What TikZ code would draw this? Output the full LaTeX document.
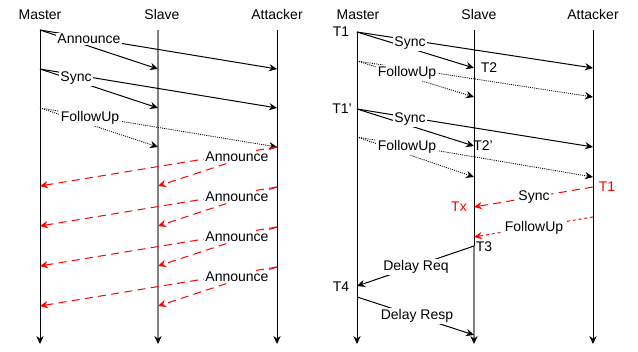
\documentclass[tikz,border=0pt]{standalone}
\usepackage{fontspec}
\setmainfont{Liberation Sans}
\usetikzlibrary{arrows.meta}
\begin{document}
\begin{tikzpicture}[x=0.75pt,y=-0.75pt,
  tip/.tip={Stealth[length=6pt,width=5.5pt,inset=2pt]},
  every node/.style={font=\fontsize{10.5}{12}\selectfont, inner sep=1pt},
  hdr/.style={},
  lbl/.style={fill=white},
  redlbl/.style={text=red},
  life/.style={line width=0.75pt,-tip},
  slavel/.style={line width=1.6pt,draw=black!50,-{Stealth[length=6pt,width=5.5pt,inset=2pt,color=black,line width=0.75pt]}},
  msg/.style={line width=0.75pt,-tip},
  fu/.style={line width=0.6pt,dash pattern=on 0.8pt off 0.8pt,-tip},
  att/.style={line width=0.75pt,red,dash pattern=on 6pt off 4pt,-tip},
  attd/.style={line width=0.75pt,red,dash pattern=on 2.2pt off 2.2pt,-tip}]
\useasboundingbox (0,0) rectangle (638,352);

% ---------- left panel ----------
\node[hdr] (hM) at (40,15) {Master};
\node[hdr] (hS) at (162,15) {Slave};
\node[hdr] (hA) at (277,15) {Attacker};
\coordinate (Mt) at (40,30);  \coordinate (Mb) at (40,344);
\coordinate (St) at (158,30); \coordinate (Sb) at (158,344);
\coordinate (At) at (277,30); \coordinate (Ab) at (277,344);
\draw[life] (Mt) -- (Mb);
\draw[slavel] (St) -- (Sb);
\draw[life] (At) -- (Ab);

\coordinate (m1) at (40,30);  \coordinate (s1) at (158,69);  \coordinate (a1) at (277,69);
\coordinate (m2) at (40,69);  \coordinate (s2) at (158,108); \coordinate (a2) at (277,108);
\coordinate (m3) at (40,108); \coordinate (s3) at (158,147); \coordinate (a3) at (277,147);
\draw[msg] (m1) -- (s1); \draw[msg] (m1) -- (a1);
\draw[msg] (m2) -- (s2); \draw[msg] (m2) -- (a2);
\draw[fu] (m3) -- (s3);  \draw[fu] (m3) -- (a3);
\node[lbl] (l1) at (89,39) {Announce};
\node[lbl] (l2) at (76,78) {Sync};
\node[lbl] (l3) at (90,118) {FollowUp};

\foreach \i/\y in {1/147,2/187,3/227,4/267}{
  \coordinate (ra\i) at (277,\y);
  \coordinate (rm\i) at (40,\y+39);
  \coordinate (rs\i) at (158,\y+39);
  \draw[att] (ra\i) -- (rm\i);
  \draw[att] (ra\i) -- (rs\i);
  \node[lbl] (rl\i) at (237,\y+10) {Announce};
}

% ---------- right panel ----------
\node[hdr] (hM2) at (358,15) {Master};
\node[hdr] (hS2) at (479,15) {Slave};
\node[hdr] (hA2) at (593,15) {Attacker};
\coordinate (Mt2) at (357,32);  \coordinate (Mb2) at (357,344);
\coordinate (St2) at (474,30);  \coordinate (Sm2) at (474,246); \coordinate (Sb2) at (474,344);
\coordinate (At2) at (593,30);  \coordinate (Ab2) at (593,344);
\draw[life] (Mt2) -- (Mb2);
\draw[line width=0.75pt] (St2) -- (Sm2);
\draw[slavel] (Sm2) -- (Sb2);
\draw[life] (At2) -- (Ab2);

\coordinate (p1) at (357,32);  \coordinate (q1) at (474,68);  \coordinate (r1) at (593,68);
\coordinate (p2) at (357,61);  \coordinate (q2) at (474,97);  \coordinate (r2) at (593,97);
\coordinate (p3) at (357,109); \coordinate (q3) at (474,146); \coordinate (r3) at (593,147);
\coordinate (p4) at (357,137); \coordinate (q4) at (474,177); \coordinate (r4) at (593,177);
\draw[msg] (p1) -- (q1); \draw[msg] (p1) -- (r1);
\draw[fu] (p2) -- (q2);  \draw[fu] (p2) -- (r2);
\draw[msg] (p3) -- (q3); \draw[msg] (p3) -- (r3);
\draw[fu] (p4) -- (q4);  \draw[fu] (p4) -- (r4);
\node[lbl] (k1) at (410,43) {Sync};
\node[lbl] (k2) at (407,73) {FollowUp};
\node[lbl] (k3) at (410,119) {Sync};
\node[lbl] (k4) at (407,147) {FollowUp};
\node (t1) at (341,32) {T1};
\node (t2) at (489,68) {T2};
\node (t1p) at (342,109) {T1'};
\node (t2p) at (483,146) {T2'};

\coordinate (x1) at (593,187); \coordinate (y1) at (474,207);
\coordinate (x2) at (593,217); \coordinate (y2) at (474,237);
\draw[att] (x1) -- (y1);
\draw[attd] (x2) -- (y2);
\node[lbl] (k5) at (534,197) {Sync};
\node[lbl] (k6) at (534,228) {FollowUp};
\node[redlbl] (rt1) at (607,187) {T1};
\node[redlbl] (tx) at (459,207) {Tx};

\coordinate (d1) at (474,246); \coordinate (e1) at (357,286);
\coordinate (d2) at (357,297); \coordinate (e2) at (474,335);
\draw[msg] (d1) -- (e1);
\draw[msg] (d2) -- (e2);
\node[lbl] (k7) at (416,267) {Delay Req};
\node[lbl] (k8) at (417,316) {Delay Resp};
\node (t3) at (484,247) {T3};
\node (t4) at (341,287) {T4};
\end{tikzpicture}
\end{document}
